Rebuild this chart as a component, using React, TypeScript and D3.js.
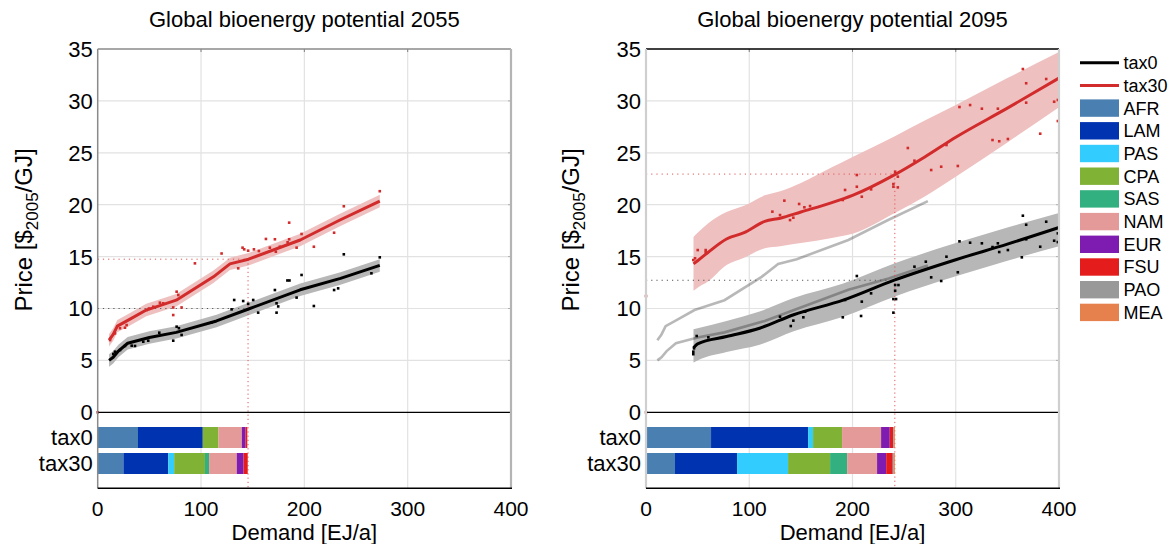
import React from "react";
import * as d3 from "d3";

// ---------- DATA ----------
const regions = ["AFR", "LAM", "PAS", "CPA", "SAS", "NAM", "EUR", "FSU", "PAO", "MEA"];
const regionColors = ["#4a7fb2", "#0033b0", "#33ccff", "#80b236", "#33b07f", "#e59a9a", "#7e1cb2", "#e41c1c", "#999999", "#e6804c"];
const scenarios = ["tax0", "tax30"];
const yTicks = [0, 5, 10, 15, 20, 25, 30, 35];
const xTicks = [0, 100, 200, 300, 400];

// 2055 bars (EJ/a per region)
const bars2055Tax0 = [39.0, 62.7, 0, 15.2, 0, 22.6, 3.6, 1.7, 0, 0];
const bars2055Tax30 = [24.9, 43.4, 5.7, 29.8, 4.0, 26.8, 6.6, 4.0, 0, 0];
// 2095 bars
const bars2095Tax0 = [63.0, 94.0, 4.8, 28.1, 0, 37.8, 8.4, 3.5, 0.6, 0.8];
const bars2095Tax30 = [28.1, 60.1, 49.4, 40.7, 16.5, 29.0, 8.8, 6.4, 1.0, 1.0];

// 2055 supply curves
const curve2055Tax0X = [11, 15, 20, 29, 50, 76, 115, 146, 196, 235, 273];
const curve2055Tax0Y = [5.0, 5.3, 5.9, 6.65, 7.2, 7.7, 8.8, 9.95, 11.8, 12.9, 14.15];
const curve2055Tax0Hi = [5.6, 5.9, 6.5, 7.25, 7.8, 8.3, 9.4, 10.55, 12.4, 13.5, 14.75];
const curve2055Tax0Lo = [4.4, 4.7, 5.3, 6.05, 6.6, 7.1, 8.2, 9.35, 11.2, 12.3, 13.55];

const curve2055Tax30X = [11, 15, 19, 30, 47, 76, 112, 128, 146, 196, 234, 273];
const curve2055Tax30Y = [6.95, 7.5, 8.3, 8.9, 9.85, 10.8, 13.05, 14.3, 14.75, 16.6, 18.5, 20.35];
const curve2055Tax30Hi = [7.55, 8.1, 8.9, 9.5, 10.45, 11.4, 13.65, 14.9, 15.35, 17.2, 19.1, 20.95];
const curve2055Tax30Lo = [6.35, 6.9, 7.7, 8.3, 9.25, 10.2, 12.45, 13.7, 14.15, 16.0, 17.9, 19.75];

// 2095 supply curves
const curve2095Tax0X = [46, 50, 78, 110, 143, 191, 241, 300, 350, 400];
const curve2095Tax0Y = [6.2, 6.6, 7.3, 8.1, 9.4, 10.8, 12.75, 14.7, 16.2, 17.8];
const curve2095Tax0Hi = [8.0, 8.1, 8.8, 9.7, 11.0, 12.4, 14.35, 16.3, 17.8, 19.2];
const curve2095Tax0Lo = [4.8, 5.0, 5.8, 6.5, 7.8, 9.2, 11.15, 13.1, 14.6, 16.0];

const curve2095Tax30X = [46, 50, 60, 78, 95, 115, 130, 150, 180, 200, 241, 270, 300, 350, 400];
const curve2095Tax30Y = [14.3, 14.6, 15.4, 16.7, 17.3, 18.4, 18.7, 19.3, 20.2, 20.9, 22.9, 24.6, 26.5, 29.3, 32.2];
const curve2095Tax30Hi = [16.9, 17.3, 18.2, 19.3, 19.9, 20.9, 21.3, 22.1, 23.6, 24.6, 26.6, 28.1, 29.6, 32.2, 34.7];
const curve2095Tax30Lo = [11.7, 12.0, 12.6, 14.2, 14.9, 15.8, 16.0, 16.3, 16.8, 17.2, 19.2, 20.8, 22.7, 26.0, 29.4];

// scatter points [demand, price]
const points2055Tax0 = [[15.1,5.62],[16.7,5.84],[21.6,6.0],[26.4,6.39],[32.9,6.42],[36.1,6.39],[44.1,6.8],[48.9,6.9],[59.6,7.67],[73.1,6.9],[76.4,8.25],[78.6,8.1],[81.2,7.45],[110.3,8.67],[129.6,9.92],[132.1,10.82],[140.8,10.72],[145.6,10.45],[150.5,10.82],[155.3,9.6],[171.5,11.78],[173.1,10.5],[173.1,9.6],[174.7,10.2],[183.6,12.7],[185.6,12.7],[192.5,11.05],[197.3,13.23],[209.2,10.24],[228.8,11.78],[232.7,11.94],[238.2,15.22],[264.9,13.39],[273,14.93]];
const points2055Tax30 = [[0,0],[12,6.96],[16.7,7.6],[21.6,8.1],[26.4,8.15],[28,8.4],[47.4,9.86],[49.6,10.0],[53.8,10.17],[60.2,10.56],[63.4,10.5],[73.1,10.1],[73.1,9.37],[76.4,11.62],[78,11.3],[81.2,10.1],[94.1,14.35],[119.9,15.3],[136,13.87],[140.2,15.86],[141.8,15.7],[145.6,15.57],[151.2,15.7],[156,15.54],[162.8,16.7],[166.6,15.86],[171.5,16.67],[172.4,15.47],[176.3,15.95],[183.8,16.38],[185.3,18.27],[185.3,16.67],[192.5,15.86],[197.3,17.18],[209.2,15.95],[228.8,17.3],[238.2,19.85],[273,21.3]];
const points2095Tax0 = [[45.8,5.84],[46.5,6.16],[45.8,5.6],[49.1,7.35],[60.4,7.22],[129.8,9.21],[140.2,8.31],[142.7,8.83],[152.4,9.15],[154.1,9.69],[190.6,9.15],[192.8,10.82],[204.2,13.13],[208.3,9.28],[209,10.66],[218,11.46],[239.6,9.6],[239.6,10.91],[242.2,10.91],[241.3,11.71],[241.3,12.26],[244.5,12.26],[260,14.03],[271,14.51],[276.2,13.0],[285.9,12.65],[291,14.99],[302,13.49],[303.6,16.47],[313.9,16.34],[325.3,16.28],[335.6,15.92],[340.8,16.28],[342.1,15.44],[350.5,15.63],[364,14.93],[365,18.94],[368.2,18.07],[368.2,16.67],[381.8,15.95],[387.6,18.36],[395.3,16.53],[398.9,17.24],[398.9,16.4]];
const points2095Tax30 = [[0,0],[0,11.2],[45.8,14.67],[47.5,14.84],[50.1,15.63],[57.8,15.63],[57.8,15.41],[122.4,19.33],[129.8,19.0],[134,20.39],[139.5,18.52],[142.7,18.75],[148.3,20.07],[153.4,19.75],[158.9,19.87],[190.6,20.45],[192.8,21.42],[204.2,21.73],[204.2,22.86],[209,20.77],[218,21.48],[239.6,21.73],[239.6,21.99],[241.3,23.18],[243.9,21.67],[243.9,22.7],[253.6,25.46],[260,24.24],[276.2,23.34],[285.9,23.66],[291,25.75],[302,23.73],[303.6,29.41],[313.9,29.6],[325.3,29.25],[335.6,26.23],[340.8,29.25],[342.1,26.11],[350.5,26.33],[365,33.07],[368.2,31.7],[368.2,29.83],[381.8,26.84],[387.6,32.11],[395.3,29.92],[398.9,30.09],[398.9,28.06]];

// equilibrium markers
const eq2055 = { demand: 145.5, priceTax0: 10.0, priceTax30: 14.75 };
const eq2095 = { demand: 241, priceTax0: 12.72, priceTax30: 22.95 };

// ---------- STYLE ----------
const FONT = "'Liberation Sans', Arial, Helvetica, sans-serif";
const RED = "#d22b2b";
const RED_BAND = "#efc0c0";
const GREY_BAND = "#b7b7b7";
const GRID = "#e2e2e2";

type Curve = { x: number[]; y: number[]; hi: number[]; lo: number[]; smooth: boolean };

const zip = (xs: number[], ys: number[]) => xs.map((v, i) => [v, ys[i]] as [number, number]);

function Panel(props: {
  x0: number; x1: number; title: string;
  tax0: Curve; tax30: Curve;
  pts0: number[][]; pts30: number[][];
  bars0: number[]; bars30: number[];
  eq: { demand: number; priceTax0: number; priceTax30: number };
  ref?: { tax0: Curve; tax30: Curve };
  variant: "left" | "right";
  labelX: number;
}) {
  const top = 49, zeroY = 412.3, bottom = 488.3;
  const x = d3.scaleLinear().domain([0, 400]).range([props.x0, props.x1]);
  const y = d3.scaleLinear().domain([0, 35]).range([zeroY, top]);
  const band = d3.scaleBand<string>().domain(scenarios).range([424.4, 476.6]).paddingInner(0.1923).paddingOuter(0.1);

  const curveOf = (c: Curve) => (c.smooth ? d3.curveMonotoneX : d3.curveLinear);
  const linePath = (c: Curve) =>
    d3.line<[number, number]>().x(d => x(d[0])).y(d => y(d[1])).curve(curveOf(c))(zip(c.x, c.y)) || "";
  const areaPath = (c: Curve) =>
    d3.area<number>().x((_, i) => x(c.x[i])).y0((_, i) => y(c.lo[i])).y1((_, i) => y(c.hi[i])).curve(curveOf(c))(c.x) || "";

  const stacks = (vals: number[]) => {
    let acc = 0;
    return vals.map((v, i) => { const s = acc; acc += v; return { s, e: acc, i }; });
  };

  const frame = props.variant === "left"
    ? { top: "#8a8a8a", left: "#8a8a8a", right: "#b4b4b4", lw: 1.5 }
    : { top: "#000", left: "#cfcfcf", right: "#cfcfcf", lw: 2.2 };

  const cx = (props.x0 + props.x1) / 2;
  return (
    <g>
      {/* grid */}
      {[100, 200, 300].map(t => (
        <line key={"gx" + t} x1={x(t)} x2={x(t)} y1={top} y2={bottom} stroke={GRID} strokeWidth={1.2} />
      ))}
      {[5, 10, 15, 20, 25, 30].map(t => (
        <line key={"gy" + t} x1={props.x0} x2={props.x1} y1={y(t)} y2={y(t)} stroke={GRID} strokeWidth={1.2} />
      ))}
      {[100, 200, 300].map(t => (
        <line key={"tt" + t} x1={x(t)} x2={x(t)} y1={top} y2={top + 3} stroke="#808080" strokeWidth={1} />
      ))}
      {[5, 10, 15, 20, 25, 30].map(t => (
        <line key={"tr" + t} x1={props.x1 - 3} x2={props.x1} y1={y(t)} y2={y(t)} stroke="#b0b0b0" strokeWidth={1} />
      ))}

      {/* bands */}
      <path d={areaPath(props.tax30)} fill={RED_BAND} />
      <path d={areaPath(props.tax0)} fill={GREY_BAND} />

      {/* reference (2055) curves */}
      {props.ref && (
        <g>
          <path d={linePath(props.ref.tax30)} fill="none" stroke="#000" strokeOpacity={0.28} strokeWidth={2.6} />
          <path d={linePath(props.ref.tax0)} fill="none" stroke="#000" strokeOpacity={0.28} strokeWidth={2.6} />
        </g>
      )}

      {/* dotted equilibrium lines */}
      <line x1={props.x0} x2={x(props.eq.demand)} y1={y(props.eq.priceTax0)} y2={y(props.eq.priceTax0)}
        stroke="#555" strokeWidth={1} strokeDasharray="1.2,4" />
      <line x1={props.x0} x2={x(props.eq.demand)} y1={y(props.eq.priceTax30)} y2={y(props.eq.priceTax30)}
        stroke="#e05555" strokeWidth={1} strokeDasharray="1.2,4" />
      <line x1={x(props.eq.demand)} x2={x(props.eq.demand)} y1={y(props.eq.priceTax30)} y2={bottom}
        stroke="#e05555" strokeWidth={1} strokeDasharray="1.2,3" />

      {/* main curves */}
      <path d={linePath(props.tax30)} fill="none" stroke={RED} strokeWidth={3} strokeLinejoin="round" />
      <path d={linePath(props.tax0)} fill="none" stroke="#000" strokeWidth={3} strokeLinejoin="round" />

      {/* scatter */}
      {props.pts30.map((p, i) => (
        <rect key={"r" + i} x={x(p[0]) - 1.3} y={y(p[1]) - 1.3} width={2.6} height={2.6} fill={RED} />
      ))}
      {props.pts0.map((p, i) => (
        <rect key={"b" + i} x={x(p[0]) - 1.3} y={y(p[1]) - 1.3} width={2.6} height={2.6} fill="#000" />
      ))}

      {/* bars */}
      {[props.bars0, props.bars30].map((vals, si) =>
        stacks(vals).filter(d => d.e > d.s).map(d => (
          <rect key={"bar" + si + "-" + d.i}
            x={x(d.s)} width={x(d.e) - x(d.s)}
            y={band(scenarios[si])!} height={band.bandwidth()}
            fill={regionColors[d.i]} />
        ))
      )}

      {/* zero line */}
      <line x1={props.x0} x2={props.x1} y1={zeroY} y2={zeroY} stroke="#000" strokeWidth={1.3} />

      {/* frame */}
      <line x1={props.x0} x2={props.x1} y1={top} y2={top} stroke={frame.top} strokeWidth={1.5} />
      <line x1={props.x0} x2={props.x0} y1={top} y2={bottom} stroke={frame.left} strokeWidth={frame.lw} />
      <line x1={props.x1} x2={props.x1} y1={top} y2={bottom} stroke={frame.right} strokeWidth={2.2} />
      <line x1={props.x0} x2={props.x1 + 1} y1={bottom} y2={bottom} stroke="#000" strokeWidth={1.5} />

      {/* y tick labels */}
      {yTicks.map(t => (
        <text key={"yl" + t} x={props.x0 - 5} y={y(t)} dy="0.36em" textAnchor="end" fontSize={22} fontFamily={FONT} fill="#000">{t}</text>
      ))}
      {scenarios.map(s => (
        <text key={"sl" + s} x={props.x0 - 5} y={band(s)! + band.bandwidth() / 2} dy="0.36em" textAnchor="end" fontSize={22} fontFamily={FONT} fill="#000">{s}</text>
      ))}
      {/* x tick labels */}
      {xTicks.map(t => (
        <text key={"xl" + t} x={x(t)} y={515.5} textAnchor="middle" fontSize={21} fontFamily={FONT} fill="#000">{t}</text>
      ))}
      <text x={cx} y={540} textAnchor="middle" fontSize={22} fontFamily={FONT} fill="#000">Demand [EJ/a]</text>
      <text x={cx} y={27} textAnchor="middle" fontSize={22} fontFamily={FONT} fill="#000">{props.title}</text>
      <text transform={`translate(${props.labelX},${230}) rotate(-90)`} textAnchor="middle" fontSize={24} fontFamily={FONT} fill="#000">
        Price [$<tspan fontSize={17} dy={6}>2005</tspan><tspan dy={-6}>/GJ]</tspan>
      </text>
    </g>
  );
}

function Legend() {
  const lx = 1080, lw = 39, tx = 1123.5;
  const y0 = 62.7, step = 22.7;
  const items = [
    { label: "tax0", kind: "line", color: "#000" },
    { label: "tax30", kind: "line", color: RED },
    ...regions.map((r, i) => ({ label: r, kind: "box", color: regionColors[i] })),
  ];
  return (
    <g>
      {items.map((it, i) => {
        const cy = y0 + i * step;
        return (
          <g key={it.label}>
            {it.kind === "line"
              ? <line x1={lx} x2={lx + lw} y1={cy} y2={cy} stroke={it.color} strokeWidth={3} />
              : <rect x={lx} y={cy - 8.7} width={lw} height={17.4} fill={it.color} />}
            <text x={tx} y={cy} dy="0.36em" fontSize={18} fontFamily={FONT} fill="#000">{it.label}</text>
          </g>
        );
      })}
    </g>
  );
}

export default function App() {
  const c55_0: Curve = { x: curve2055Tax0X, y: curve2055Tax0Y, hi: curve2055Tax0Hi, lo: curve2055Tax0Lo, smooth: false };
  const c55_30: Curve = { x: curve2055Tax30X, y: curve2055Tax30Y, hi: curve2055Tax30Hi, lo: curve2055Tax30Lo, smooth: false };
  const c95_0: Curve = { x: curve2095Tax0X, y: curve2095Tax0Y, hi: curve2095Tax0Hi, lo: curve2095Tax0Lo, smooth: true };
  const c95_30: Curve = { x: curve2095Tax30X, y: curve2095Tax30Y, hi: curve2095Tax30Hi, lo: curve2095Tax30Lo, smooth: true };
  return (
    <svg width={1173} height={544} style={{ position: "absolute", left: 0, top: 0, background: "#fff" }}>
      <rect width={1173} height={544} fill="#fff" />
      <Panel x0={97.7} x1={511} title="Global bioenergy potential 2055"
        tax0={c55_0} tax30={c55_30} pts0={points2055Tax0} pts30={points2055Tax30}
        bars0={bars2055Tax0} bars30={bars2055Tax30} eq={eq2055} variant="left" labelX={32} />
      <Panel x0={646} x1={1059} title="Global bioenergy potential 2095"
        tax0={c95_0} tax30={c95_30} pts0={points2095Tax0} pts30={points2095Tax30}
        bars0={bars2095Tax0} bars30={bars2095Tax30} eq={eq2095} variant="right" labelX={579}
        ref={{ tax0: c55_0, tax30: c55_30 }} />
      <Legend />
    </svg>
  );
}
